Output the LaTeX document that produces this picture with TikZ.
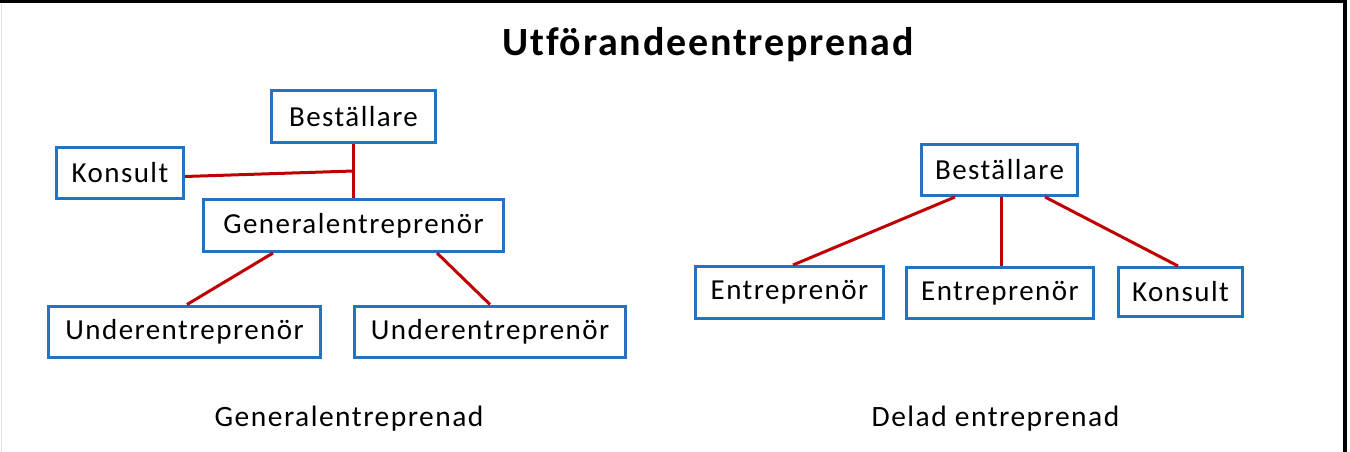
\documentclass[tikz,border=0pt]{standalone}
\usepackage{fontspec}
\setmainfont{Carlito}
\newfontfamily\widefont[LetterSpace=5,Ligatures=NoCommon]{Carlito}
\newfontfamily\widebold[LetterSpace=4.5,Ligatures=NoCommon]{Carlito Bold}
\usetikzlibrary{calc}
\definecolor{boxblue}{RGB}{36,114,192}
\definecolor{linkred}{RGB}{192,0,0}
\begin{document}
\begin{tikzpicture}[x=1pt,y=-1pt,
  box/.style={draw=boxblue,line width=3pt,fill=white,inner sep=0pt,minimum height=51pt,font=\widefont\fontsize{29}{31}\selectfont},
  link/.style={draw=linkred,line width=3pt},
  frame/.style={draw=black,line width=3.5pt},
  caption/.style={anchor=base,inner sep=0pt,font=\widefont\fontsize{29.5}{31}\selectfont}]
\useasboundingbox (0,0) rectangle (1350,452);
% frame
\draw[draw=black!12,line width=1pt] (1.5,4) -- (1.5,452);
\draw[frame] (0,1.75) -- (1347,1.75);
\draw[frame] (1345,0) -- (1345,452);
% title
\node[anchor=base,inner sep=0pt,font=\widebold\fontsize{40}{44}\selectfont] (title) at (708,56) {Utförandeentreprenad};
% left diagram
\node[box,minimum width=164pt] (bl) at (353.5,116.5) {Beställare};
\node[box,minimum width=127pt] (kl) at (120,172.5) {Konsult};
\node[box,minimum width=300pt,minimum height=52pt] (ge) at (353.5,225.5) {Generalentreprenör};
\node[box,minimum width=272pt] (u1) at (184.5,331.5) {Underentreprenör};
\node[box,minimum width=271pt] (u2) at (490,331.5) {Underentreprenör};
\coordinate (j) at (353.5,171);
\draw[link] (bl.south) -- (ge.north);
\draw[link] ([yshift=-4pt]kl.east) -- (j);
\draw[link] ([xshift=-80.5pt]ge.south) -- ([xshift=2.5pt]u1.north);
\draw[link] ([xshift=83.5pt]ge.south) -- (u2.north);
\node[caption] (capl) at (349,426) {Generalentreprenad};
% right diagram
\node[box,minimum width=156pt] (br) at (999.5,170) {Beställare};
\node[box,minimum width=188pt,minimum height=52pt] (e1) at (789.5,292.5) {Entreprenör};
\node[box,minimum width=187pt] (e2) at (1000,293) {Entreprenör};
\node[box,minimum width=124pt,minimum height=49pt] (kr) at (1180.5,292) {Konsult};
\draw[link] ([xshift=-44.5pt]br.south) -- ([xshift=3.5pt]e1.north);
\draw[link] ([xshift=1.5pt]br.south) -- ([xshift=1pt]e2.north);
\draw[link] ([xshift=45.5pt]br.south) -- ([xshift=-2.5pt]kr.north);
\node[caption] (capr) at (995.5,426) {Delad entreprenad};
\end{tikzpicture}
\end{document}
